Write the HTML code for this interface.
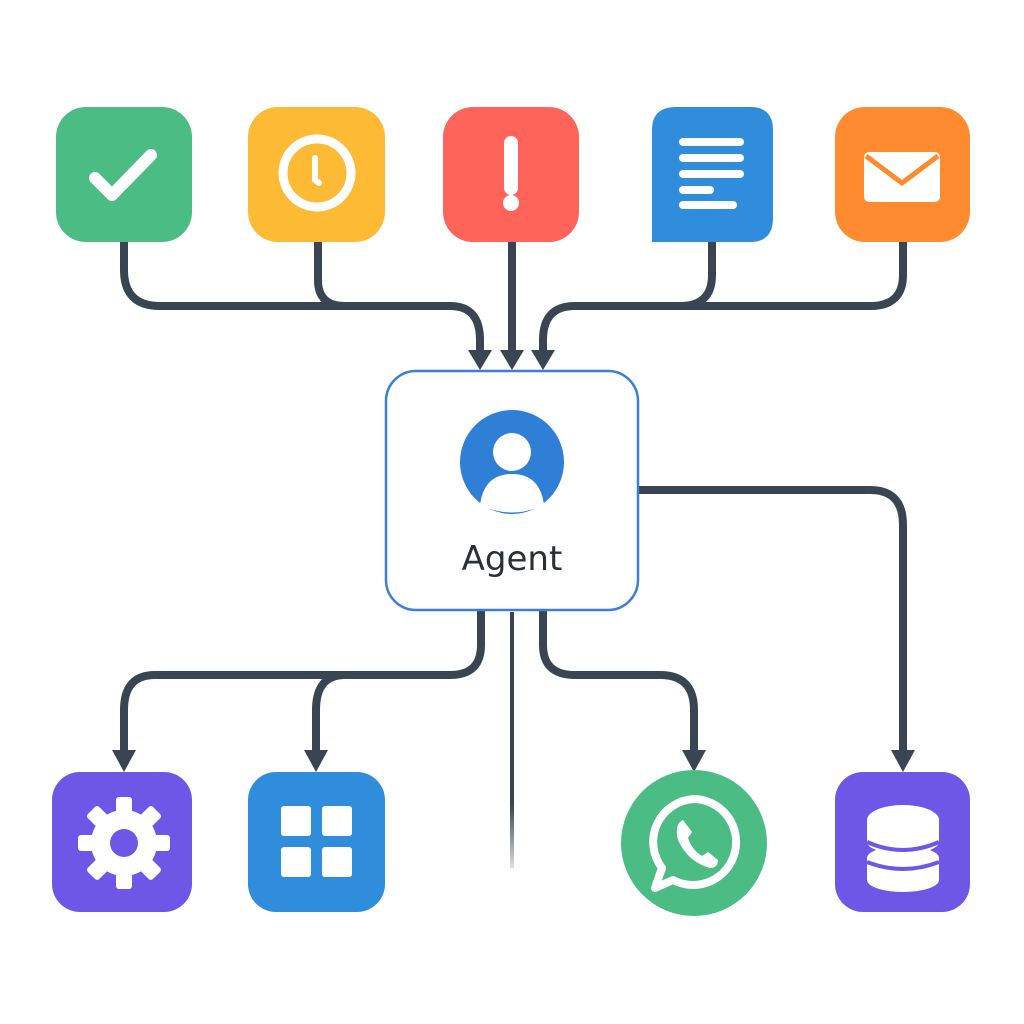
<!DOCTYPE html>
<html><head><style>
body{margin:0;background:#fff;width:1024px;height:1024px;overflow:hidden}
svg{display:block}
</style></head><body>
<svg width="1024" height="1024" viewBox="0 0 1024 1024">
<defs>
<linearGradient id="fade" gradientUnits="userSpaceOnUse" x1="0" y1="610" x2="0" y2="870"><stop offset="0.75" stop-color="#3a4553"/><stop offset="1" stop-color="#3a4553" stop-opacity="0.15"/></linearGradient>
</defs>
<g fill="none" stroke="#3a4553" stroke-width="8" stroke-linecap="round">
<path d="M124 242 V270 Q124 306 160 306 H450 Q480 306 480 340 V352"/>
<path d="M318 242 V280 Q318 306 345 306"/>
<path d="M512 242 V352"/>
<path d="M712 242 V275 Q712 306 680 306"/>
<path d="M903 242 V275 Q903 306 870 306 H575 Q543 306 543 340 V352"/>
<path d="M638 490 H870 Q903 490 903 525 V752"/>
<path d="M481 612 V645 Q481 675 450 675 H155 Q124 675 124 710 V752"/>
<path d="M345 675 Q316 675 316 710 V752"/>
<path d="M543 612 V645 Q543 675 575 675 H660 Q694 675 694 710 V752"/>
</g>
<rect x="510" y="612" width="4" height="256" fill="url(#fade)"/>
<g fill="#3a4553">
<path d="M468 350 L492 350 L480 370 Z"/>
<path d="M500 350 L524 350 L512 370 Z"/>
<path d="M531 350 L555 350 L543 370 Z"/>
<path d="M112 750 L136 750 L124 772 Z"/>
<path d="M304 750 L328 750 L316 772 Z"/>
<path d="M682 750 L706 750 L694 772 Z"/>
<path d="M891 750 L915 750 L903 772 Z"/>
</g>
<rect x="56" y="107" width="136" height="135" rx="30" fill="#4bbc83"/>
<path d="M95 178 L112 195 L151 155" fill="none" stroke="#fff" stroke-width="12" stroke-linecap="round" stroke-linejoin="round"/>
<rect x="248" y="107" width="137" height="135" rx="30" fill="#fdbb35"/>
<circle cx="317" cy="173" r="34" fill="none" stroke="#fff" stroke-width="9"/>
<path d="M315 158 V180 L319 183" fill="none" stroke="#fff" stroke-width="6" stroke-linecap="round"/>
<rect x="443" y="107" width="136" height="135" rx="30" fill="#fe6459"/>
<path d="M511 143 V188" stroke="#fff" stroke-width="14" stroke-linecap="round"/>
<circle cx="511" cy="203" r="8" fill="#fff"/>
<path d="M652 130 Q652 107 676 107 H750 Q773 107 773 130 V218 Q773 242 750 242 H652 Z" fill="#2f8ddb"/>
<g stroke="#fff" stroke-width="8" stroke-linecap="round">
<path d="M683 142 H740"/><path d="M683 158 H740"/><path d="M683 174 H740"/><path d="M683 190 H710"/><path d="M683 205 H733"/>
</g>
<rect x="835" y="107" width="135" height="135" rx="30" fill="#fe8b2f"/>
<rect x="864" y="152" width="76" height="50" rx="5" fill="#fff"/>
<path d="M866 156 L902 183 L938 156" fill="none" stroke="#fe8b2f" stroke-width="5"/>
<rect x="386" y="371" width="252" height="239" rx="30" fill="#fff" stroke="#3a7fd4" stroke-width="2.5"/>
<circle cx="512" cy="462" r="52" fill="#2f7fd6"/>
<circle cx="512" cy="452" r="19" fill="#fff"/>
<path d="M480 505 Q484 474 512 474 Q540 474 544 505 Q512 520 480 505 Z" fill="#fff"/>
<text x="512" y="570" text-anchor="middle" font-family="DejaVu Sans, sans-serif" font-size="34" fill="#2b2f36">Agent</text>
<rect x="52" y="772" width="140" height="140" rx="28" fill="#6e56e6"/>
<g transform="translate(124 843)" fill="#fff">
<g id="t"><rect x="-8" y="-46" width="16" height="18" rx="3"/></g>
<use href="#t" transform="rotate(45)"/><use href="#t" transform="rotate(90)"/><use href="#t" transform="rotate(135)"/><use href="#t" transform="rotate(180)"/><use href="#t" transform="rotate(225)"/><use href="#t" transform="rotate(270)"/><use href="#t" transform="rotate(315)"/>
<circle r="33"/><circle r="14" fill="#6e56e6"/>
</g>
<rect x="248" y="772" width="137" height="140" rx="28" fill="#2f8ddb"/>
<g fill="#fff"><rect x="281" y="806" width="30" height="30" rx="3"/><rect x="322" y="806" width="30" height="30" rx="3"/><rect x="281" y="847" width="30" height="30" rx="3"/><rect x="322" y="847" width="30" height="30" rx="3"/></g>
<circle cx="694" cy="843" r="73" fill="#4bbc83"/>
<path d="M694 799 A43 43 0 1 1 673 880 L655 888 L662 868 A43 43 0 0 1 694 799 Z" fill="none" stroke="#fff" stroke-width="8" stroke-linejoin="round"/>
<path d="M683 820 Q674 824 678 840 Q688 862 710 868 Q718 868 718 860 L708 852 L702 856 Q692 850 688 838 L692 832 Z" fill="#fff"/>
<rect x="835" y="772" width="135" height="140" rx="28" fill="#6e56e6"/>
<g fill="#fff"><ellipse cx="903" cy="820" rx="36" ry="15"/><rect x="867" y="820" width="72" height="22"/><ellipse cx="903" cy="842" rx="36" ry="12"/>
<rect x="867" y="858" width="72" height="22"/><ellipse cx="903" cy="880" rx="36" ry="12"/><ellipse cx="903" cy="858" rx="36" ry="12"/></g>
<path d="M867 842 Q903 858 939 842 M867 862 Q903 876 939 862" fill="none" stroke="#6e56e6" stroke-width="4"/>
</svg>
</body></html>
